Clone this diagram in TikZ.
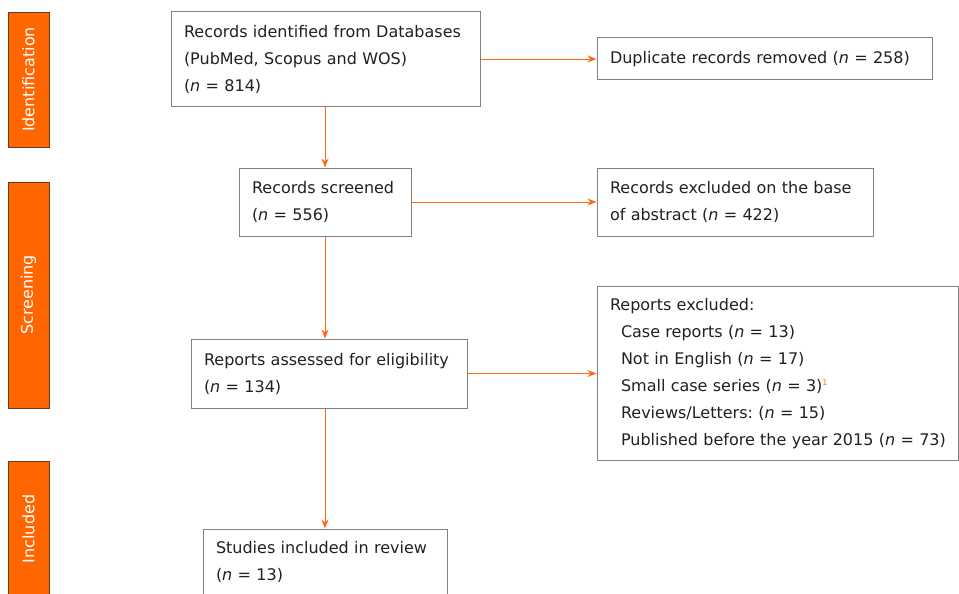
\documentclass[tikz,border=0pt]{standalone}
\usepackage{fontspec}
\setmainfont{DejaVu Sans}
\usepackage{xcolor}
\usepackage{tikz}
\usetikzlibrary{arrows.meta}
\frenchspacing
\definecolor{flow}{HTML}{FF6A13}
\definecolor{phase}{HTML}{FF6600}
\definecolor{phaseline}{HTML}{6B3A1C}
\definecolor{boxline}{HTML}{808080}
\definecolor{ink}{HTML}{231F20}
\newcommand{\nn}{\textit{n}}
\tikzset{ stage_box/.style = {rectangle, draw=boxline, line width=1pt, text=ink, align=left, inner xsep=13pt, inner ysep=0pt, font=\fontsize{16}{27}\selectfont} }
\tikzset{ phase_bar/.style = {rectangle, fill=phase, draw=phaseline, line width=0.8pt, text=white, rotate=90, minimum height=41pt, inner sep=0pt, font=\fontsize{16}{18}\selectfont} }
\tikzset{ flow_arrow/.style = {draw=flow, line width=0.9pt, -{Stealth[length=9pt,width=7pt]}} }

\begin{document}
\begin{tikzpicture}[x=1pt,y=-1pt]
            \useasboundingbox (0,0) rectangle (959,594);
            \node [style=phase_bar, minimum width=135pt] (idbar) at (28.5,79.5) {Identification};
            \node [style=phase_bar, minimum width=226pt] (scbar) at (28.5,295) {Screening};
            \node [style=phase_bar, minimum width=136pt] (inbar) at (28.5,529) {Included};
            \node [style=stage_box, text width=283pt, minimum height=94pt] (ident) at (325.5,59) {Records identified from Databases\\(PubMed, Scopus and WOS)\\(\nn{} = 814)};
            \node [style=stage_box, text width=309pt, minimum height=42pt] (dupl) at (764.5,59) {Duplicate records removed (\nn{} = 258)};
            \node [style=stage_box, text width=146pt, minimum height=68pt] (screen) at (325,202) {Records screened\\(\nn{} = 556)};
            \node [style=stage_box, text width=250pt, minimum height=68pt] (abstr) at (735,202) {Records excluded on the base\\of abstract (\nn{} = 422)};
            \node [style=stage_box, text width=250pt, minimum height=69pt] (assess) at (329,373.5) {Reports assessed for eligibility\\(\nn{} = 134)};
            \node [style=stage_box, text width=335pt, minimum height=174pt] (reports) at (777.5,373.5) {Reports excluded:\\
              \hspace*{11pt}Case reports (\nn{} = 13)\\
              \hspace*{11pt}Not in English (\nn{} = 17)\\
              \hspace*{11pt}Small case series (\nn{} = 3)\textsuperscript{\textcolor{flow}{\fontsize{8}{8}\selectfont 1}}\\
              \hspace*{11pt}Reviews/Letters: (\nn{} = 15)\\
              \hspace*{11pt}\mbox{Published before the year 2015 (\nn{} = 73)}};
            \node [style=stage_box, text width=218pt, minimum height=65pt] (incl) at (325,561.5) {Studies included in review\\(\nn{} = 13)};
            \draw [style=flow_arrow] (ident) to (dupl);
            \draw [style=flow_arrow] (ident.south -| screen.north) to (screen.north);
            \draw [style=flow_arrow] (screen) to (abstr);
            \draw [style=flow_arrow] (screen.south) to (screen.south |- assess.north);
            \draw [style=flow_arrow] (assess) to (reports);
            \draw [style=flow_arrow] (assess.south -| incl.north) to (incl.north);
       \end{tikzpicture}
\end{document}
